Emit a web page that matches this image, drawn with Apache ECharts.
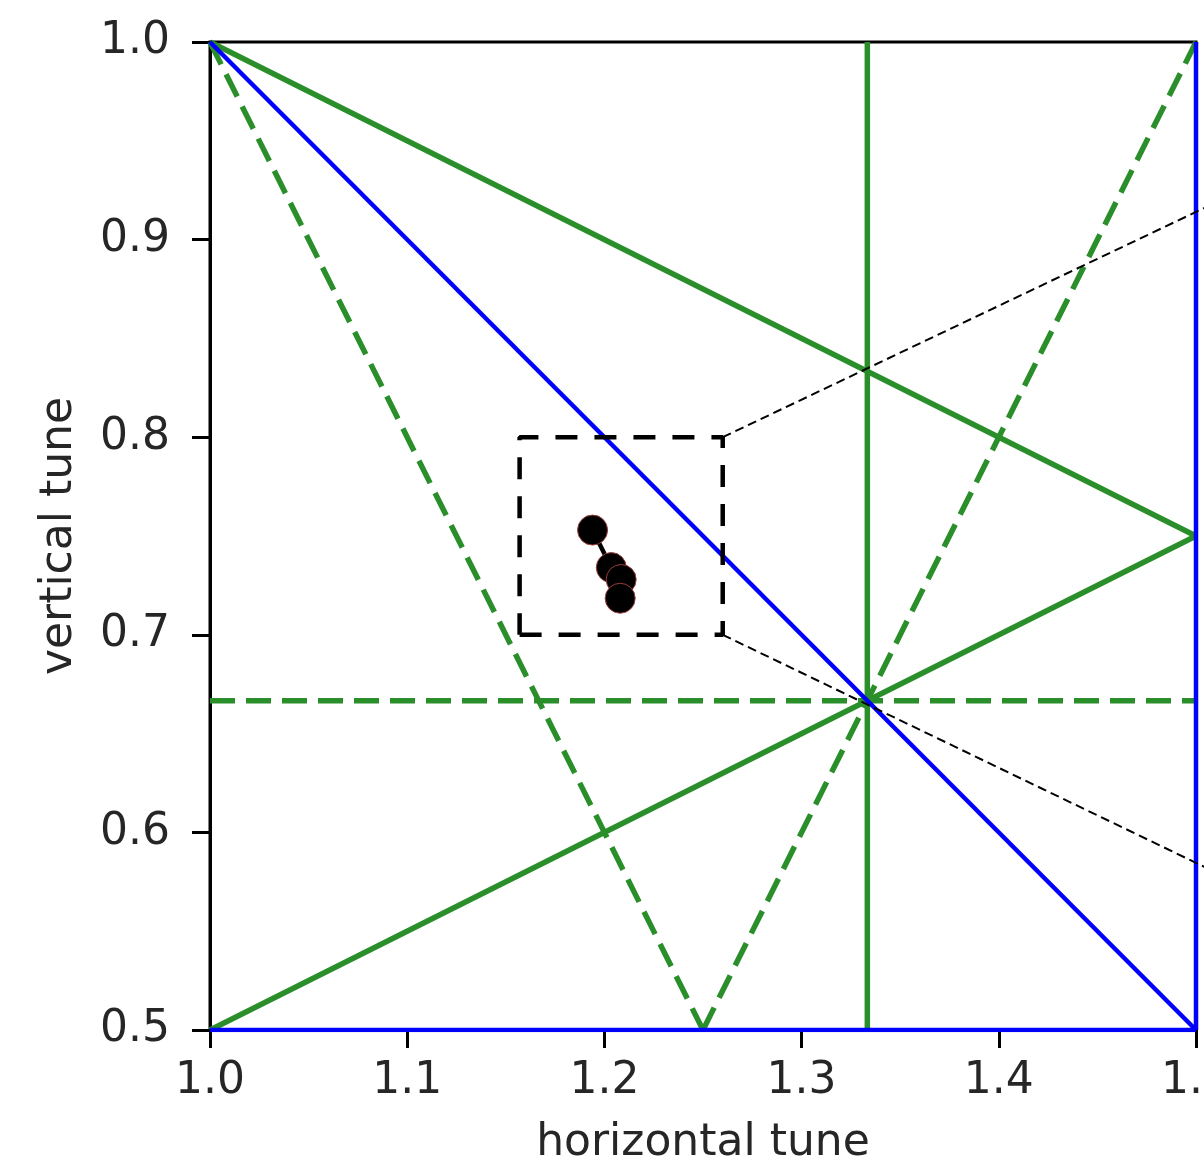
<!DOCTYPE html>
<html>
<head>
<meta charset="utf-8">
<script src="https://cdn.jsdelivr.net/npm/echarts@6/dist/echarts.min.js"></script>
<style>
html,body{margin:0;padding:0;background:#fff;}
#chart{width:1204px;height:1168px;}
</style>
</head>
<body>
<div id="chart"></div>
<script>
// axis ticks
const xTicks = [1.0, 1.1, 1.2, 1.3, 1.4, 1.5];
const yTicks = [0.5, 0.6, 0.7, 0.8, 0.9, 1.0];
// resonance lines (segments of [qx,qy] endpoints)
const blueLines = [
  [[1.0, 1.0], [1.5, 0.5]],
  [[1.0, 0.5], [1.5, 0.5]],
  [[1.5, 0.5], [1.5, 1.0]]
];
const greenSolidLines = [
  [[1.0, 1.0], [1.5, 0.75]],
  [[1.0, 0.5], [1.5, 0.75]],
  [[4/3, 0.5], [4/3, 1.0]]
];
const greenDashedLines = [
  [[1.0, 1.0], [1.25, 0.5]],
  [[1.25, 0.5], [1.5, 1.0]],
  [[1.0, 2/3], [1.5, 2/3]]
];
// zoom box and connector lines
const zoomBox = [[1.157, 0.7], [1.26, 0.7], [1.26, 0.8], [1.157, 0.8], [1.157, 0.7]];
const connectorLines = [
  [[1.26, 0.8], [1.6, 0.9615]],
  [[1.26, 0.7], [1.6, 0.5365]]
];
// measured tunes
const tuneX = [1.194, 1.2035, 1.2085, 1.208];
const tuneY = [0.753, 0.734, 0.728, 0.7185];

const GREEN = '#2a8f2a';
const series = [];
greenDashedLines.forEach(seg => series.push({
  type: 'line', data: seg, showSymbol: false, silent: true, z: 2,
  lineStyle: {color: GREEN, width: 5.5, type: [25, 11]}
}));
greenSolidLines.forEach(seg => series.push({
  type: 'line', data: seg, showSymbol: false, silent: true, z: 2,
  lineStyle: {color: GREEN, width: 5.5}
}));
blueLines.forEach(seg => series.push({
  type: 'line', data: seg, showSymbol: false, silent: true, z: 3,
  lineStyle: {color: '#0000ff', width: 4.5}
}));
series.push({
  type: 'line', data: zoomBox, showSymbol: false, silent: true, z: 4,
  lineStyle: {color: '#000', width: 4.5, type: [22, 17]}
});
series.push({
  type: 'line', data: tuneX.map((x, i) => [x, tuneY[i]]), z: 5,
  symbol: 'circle', symbolSize: 30, showSymbol: true,
  lineStyle: {color: '#000', width: 4.5},
  itemStyle: {color: '#000', borderColor: '#9a3d3d', borderWidth: 1}
});

const chart = echarts.init(document.getElementById('chart'), null, {renderer: 'canvas'});
const axisCommon = {
  type: 'value', interval: 0.1,
  nameLocation: 'middle',
  nameTextStyle: {fontFamily: 'DejaVu Sans', fontSize: 44, color: '#262626'},
  axisLine: {show: true, lineStyle: {color: '#000', width: 3}},
  axisTick: {show: true, inside: false, length: 18, lineStyle: {color: '#000', width: 3}},
  splitLine: {show: false},
  axisLabel: {fontFamily: 'DejaVu Sans', fontSize: 44, color: '#262626', formatter: v => v.toFixed(1)}
};
chart.setOption({
  animation: false,
  backgroundColor: '#fff',
  grid: {left: 210, top: 42, right: 8, bottom: 138, show: true, borderColor: '#000', borderWidth: 3,
         backgroundColor: 'transparent', containLabel: false, outerBoundsMode: 'none'},
  xAxis: Object.assign({}, axisCommon, {
    min: xTicks[0], max: xTicks[xTicks.length - 1], name: 'horizontal tune', nameGap: 92,
    axisLabel: Object.assign({}, axisCommon.axisLabel, {margin: 30})
  }),
  yAxis: Object.assign({}, axisCommon, {
    min: yTicks[0], max: yTicks[yTicks.length - 1], name: 'vertical tune', nameGap: 128,
    axisLabel: Object.assign({}, axisCommon.axisLabel, {margin: 40})
  }),
  series: series
});
// connector lines extend past the axes: draw through the grid's data->pixel conversion
const graphics = connectorLines.map(seg => {
  const p0 = chart.convertToPixel({gridIndex: 0}, seg[0]);
  const p1 = chart.convertToPixel({gridIndex: 0}, seg[1]);
  return {
    type: 'line', z: 10, silent: true,
    shape: {x1: p0[0], y1: p0[1], x2: p1[0], y2: p1[1]},
    style: {stroke: '#000', lineWidth: 2, lineDash: [9, 5]}
  };
});
chart.setOption({graphic: graphics});
</script>
</body>
</html>
